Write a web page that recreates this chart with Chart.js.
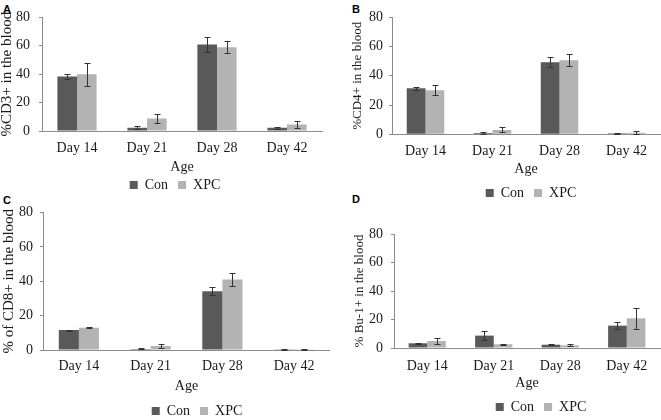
<!DOCTYPE html>
<html><head><meta charset="utf-8">
<script src="https://cdn.jsdelivr.net/npm/chart.js@4.4.1/dist/chart.umd.min.js"></script>
<style>
html,body{margin:0;padding:0;background:#fff;width:661px;height:420px;overflow:hidden;}
body{position:relative;}
.panel{position:absolute;}
.panel canvas{display:block;}
.lbl{position:absolute;font:bold 11px "Liberation Sans",Arial,sans-serif;color:#000;line-height:11px;}
</style></head><body>
<div class="lbl" style="left:3px;top:3.6px">A</div>
<div class="lbl" style="left:352px;top:3.5px">B</div>
<div class="lbl" style="left:3px;top:194.6px">C</div>
<div class="lbl" style="left:352px;top:194px">D</div>
<script>
// ---- data ----
const categories = ['Day 14', 'Day 21', 'Day 28', 'Day 42'];
const seriesNames = ['Con', 'XPC'];
const yTickValues = [0, 20, 40, 60, 80];
const xAxisTitle = 'Age';

const cd3Con    = [38.3, 2.3, 61.0, 2.3];
const cd3ConErr = [1.5, 1.0, 5.1, 0.8];
const cd3Xpc    = [39.9, 8.8, 58.9, 4.6];
const cd3XpcErr = [8.3, 3.5, 4.2, 2.7];

const cd4Con    = [31.5, 0.9, 49.2, 0.7];
const cd4ConErr = [1.0, 0.4, 3.4, 0.3];
const cd4Xpc    = [30.1, 3.0, 50.6, 1.1];
const cd4XpcErr = [3.5, 1.7, 4.2, 0.9];

const cd8Con    = [11.6, 0.6, 34.2, 0.2];
const cd8ConErr = [0.3, 0.3, 2.3, 0.1];
const cd8Xpc    = [13.0, 2.3, 41.0, 0.4];
const cd8XpcErr = [0.3, 1.0, 3.8, 0.2];

const bu1Con    = [3.3, 8.7, 2.3, 15.7];
const bu1ConErr = [0.3, 3.4, 0.5, 2.5];
const bu1Xpc    = [4.9, 2.6, 1.9, 20.8];
const bu1XpcErr = [2.0, 0.3, 0.7, 7.6];

const yTitles = ['%CD3+ in the blood', '%CD4+ in the blood', '% of CD8+ in the blood', '% Bu-1+ in the blood'];

// ---- styles / layout ----
const SERIF = "'Liberation Serif', 'Times New Roman', serif";
const CON_COLOR = '#595959';
const XPC_COLOR = '#b3b3b3';
const AXIS_COLOR = '#8c8c8c';
const TEXT_COLOR = '#1a1a1a';

Chart.defaults.font.family = SERIF;
Chart.defaults.font.size = 14;
Chart.defaults.color = TEXT_COLOR;

const layouts = [
  {box:{left:0, top:0, width:330}, plot:{left:42, right:322, top:16, bottom:131},
   yTitleSize:15, yTitleX:7.5, yTickPad:9, xTickY:148, ageY:167.5, legendX:175, legendY:185},
  {box:{left:330, top:0, width:331}, plot:{left:392, right:660, top:17.3, bottom:134.3},
   yTitleSize:13, yTitleX:358, yTickPad:6, xTickY:151, ageY:169, legendX:531, legendY:193},
  {box:{left:0, top:195, width:330}, plot:{left:43, right:330, top:212.5, bottom:350},
   yTitleSize:15, yTitleX:9, yTickPad:7, xTickY:366, ageY:386, legendX:197, legendY:411},
  {box:{left:330, top:205, width:331}, plot:{left:394, right:660, top:234, bottom:348},
   yTitleSize:13, yTitleX:360, yTickPad:8, xTickY:366, ageY:383.5, legendX:541, legendY:407}
];

const panelData = [
  [cd3Con, cd3ConErr, cd3Xpc, cd3XpcErr],
  [cd4Con, cd4ConErr, cd4Xpc, cd4XpcErr],
  [cd8Con, cd8ConErr, cd8Xpc, cd8XpcErr],
  [bu1Con, bu1ConErr, bu1Xpc, bu1XpcErr]
];

const errorBars = {
  id: 'errorBars',
  afterDatasetsDraw(chart) {
    const ctx = chart.ctx, ys = chart.scales.y;
    chart.data.datasets.forEach((ds, i) => {
      const meta = chart.getDatasetMeta(i);
      meta.data.forEach((bar, j) => {
        const v = ds.data[j], e = ds.errors[j];
        const x = Math.round(bar.x) + 0.5;
        const y1 = Math.round(ys.getPixelForValue(v + e)) + 0.5;
        const y2 = Math.round(ys.getPixelForValue(Math.max(v - e, 0))) + 0.5;
        ctx.save();
        ctx.strokeStyle = '#333';
        ctx.lineWidth = 1;
        ctx.beginPath();
        ctx.moveTo(x, y1); ctx.lineTo(x, y2);
        ctx.moveTo(x - 3, y1); ctx.lineTo(x + 3, y1);
        ctx.moveTo(x - 3, y2); ctx.lineTo(x + 3, y2);
        ctx.stroke();
        ctx.restore();
      });
    });
  }
};

const legendPlace = {
  id: 'legendPlace',
  afterLayout(chart, args, opts) {
    const lg = chart.legend;
    if (!lg) return;
    const dx = opts.cx - (lg.left + lg.right) / 2;
    lg.left += dx; lg.right += dx;
    const pad = lg.options.labels.padding;
    const newTop = opts.cy - pad - 7;
    const dy = newTop - lg.top;
    lg.top += dy; lg.bottom += dy;
  }
};

const X_H = 60, LEGEND_H = 34;

layouts.forEach((L, k) => {
  const [con, conErr, xpc, xpcErr] = panelData[k];
  const cLeft = L.box.left, cTop = L.box.top, cW = L.box.width;
  const cH = Math.ceil(L.plot.bottom - cTop + X_H + LEGEND_H);
  const div = document.createElement('div');
  div.className = 'panel';
  div.style.left = cLeft + 'px';
  div.style.top = cTop + 'px';
  div.style.width = cW + 'px';
  div.style.height = cH + 'px';
  const cv = document.createElement('canvas');
  cv.width = cW; cv.height = cH;
  cv.style.width = cW + 'px'; cv.style.height = cH + 'px';
  div.appendChild(cv);
  document.body.appendChild(div);

  const yLh = L.yTitleSize * 1.2;
  new Chart(cv, {
    type: 'bar',
    data: {
      labels: categories,
      datasets: [
        {label: seriesNames[0], data: con, errors: conErr, backgroundColor: CON_COLOR, borderWidth: 0,
         categoryPercentage: 0.56, barPercentage: 1.0},
        {label: seriesNames[1], data: xpc, errors: xpcErr, backgroundColor: XPC_COLOR, borderWidth: 0,
         categoryPercentage: 0.56, barPercentage: 1.0}
      ]
    },
    options: {
      responsive: false,
      animation: false,
      devicePixelRatio: 1,
      events: [],
      font: {family: SERIF, size: 14},
      layout: {
        padding: {
          left: 0,
          top: L.plot.top - cTop,
          right: cLeft + cW - L.plot.right,
          bottom: cH - (L.plot.bottom - cTop) - X_H - LEGEND_H
        }
      },
      scales: {
        x: {
          grid: {display: false, drawTicks: false},
          border: {display: true, color: AXIS_COLOR},
          ticks: {padding: L.xTickY - L.plot.bottom - 8.4, color: TEXT_COLOR,
                  font: {family: SERIF, size: 14, style: 'normal', weight: 'normal'}},
          title: {display: true, text: xAxisTitle, color: TEXT_COLOR, font: {family: SERIF, size: 14, lineHeight: 1.2},
                  padding: {top: 0, bottom: (L.plot.bottom + X_H - cTop) - (L.ageY - cTop) - 8.4}},
          afterFit(s) { s.height = X_H; }
        },
        y: {
          min: 0, max: 80,
          afterBuildTicks(s) { s.ticks = yTickValues.map(v => ({value: v})); },
          grid: {drawOnChartArea: false, drawTicks: true, tickLength: 3, color: AXIS_COLOR},
          border: {display: true, color: AXIS_COLOR},
          ticks: {padding: L.yTickPad, color: TEXT_COLOR,
                  font: {family: SERIF, size: 14, style: 'normal', weight: 'normal'}},
          title: {display: true, text: yTitles[k], color: TEXT_COLOR,
                  font: {family: SERIF, size: L.yTitleSize, lineHeight: 1.2},
                  padding: {top: L.yTitleX - cLeft - yLh / 2, bottom: 0}},
          afterFit(s) { s.width = L.plot.left - cLeft; }
        }
      },
      plugins: {
        legend: {
          position: 'bottom',
          labels: {boxWidth: 8, boxHeight: 8, padding: 10, color: TEXT_COLOR,
                   font: {family: SERIF, size: 14}}
        },
        tooltip: {enabled: false},
        legendPlace: {cx: L.legendX - cLeft, cy: L.legendY - cTop}
      }
    },
    plugins: [errorBars, legendPlace]
  });
});
</script>
</body></html>
